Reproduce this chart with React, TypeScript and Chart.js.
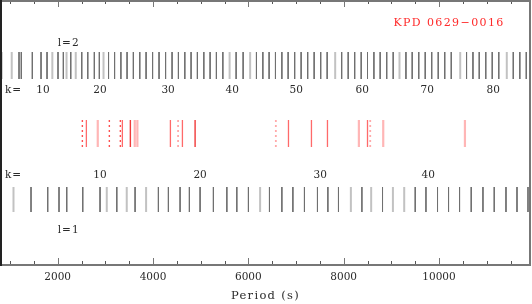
import { useEffect, useRef } from "react";
import { Chart, registerables } from "chart.js";

Chart.register(...registerables);

// ---- axis ----
const X_MIN = 790;
const X_MAX = 11930;
const X_TICKS = [1000, 1500, 2000, 2500, 3000, 3500, 4000, 4500, 5000, 5500, 6000, 6500, 7000, 7500, 8000, 8500, 9000, 9500, 10000, 10500, 11000, 11500];
const MAJOR_TICKS = [2000, 4000, 6000, 8000, 10000];

// ---- model periods, l=2 ----
const L2_PERIODS = [1189, 1237, 1468, 1651, 1777, 2007, 2119, 2274, 2505, 2631, 2769, 2874, 3067, 3194, 3326, 3456, 3588, 3722, 3855, 3991, 4127, 4264, 4400, 4533, 4667, 4799, 4931, 5066, 5198, 5330, 5465, 5744, 5891, 6170, 6304, 6436, 6569, 6703, 6835, 6972, 7108, 7245, 7381, 7518, 7654, 7958, 8095, 8231, 8368, 8500, 8634, 8766, 8903, 9039, 9306, 9438, 9575, 9711, 9847, 9984, 10120, 10257, 10578, 10712, 10844, 10981, 11117, 11254, 11558, 11695, 11831];
const L2_TRAPPED = [826, 1036, 1888, 2186, 2379, 2962, 5607, 6038, 7822, 9171, 10445, 11422];
const L2_K = [10, 20, 30, 40, 50, 60, 70, 80];
const L2_K_PERIODS = [1693, 2889, 4316, 5660, 7003, 8389, 9753, 11138];

// ---- model periods, l=1 ----
const L1_PERIODS = [1441, 1791, 2028, 2190, 2526, 2889, 3240, 3624, 4113, 4323, 4568, 4763, 4988, 5267, 5549, 5758, 6002, 6443, 6703, 6934, 7177, 7450, 7668, 7891, 8382, 8815, 9501, 9726, 9969, 10200, 10431, 10676, 10922, 11159, 11405, 11636, 11867];
const L1_TRAPPED = [1073, 3030, 3449, 3855, 6247, 8151, 8577, 9033, 9270];
const L1_K = [10, 20, 30, 40];
const L1_K_PERIODS = [2889, 4988, 7507, 9774];

// ---- observed periods ----
const OBS_STRONG = [3525, 4883];
const OBS_SOLID = [2602, 3357, 4365, 4617, 6842, 7324, 7660, 8500];
const OBS_WEAK = [2841, 3617, 3672, 8319, 8830, 10544];
const OBS_DASHED = [2518, 3084, 3315];
const OBS_DASHED_WEAK = [4526, 6577, 8557];

// ---- layout (y in pixel rows of the plot box) ----
const ROW_L2: [number, number] = [52, 79];
const ROW_OBS: [number, number] = [120, 147];
const ROW_L1: [number, number] = [187, 212];
const Y_L2_TEXT = 43;
const Y_L2_K = 90;
const Y_L1_K = 175;
const Y_L1_TEXT = 230;
const Y_STAR = 23;
const P_LTEXT = 2230;
const P_KEQ = 895;
const P_STAR = 9043;

const FONT = "DejaVu Serif";

function marks(periods: number[], row: [number, number]) {
  return periods.flatMap((p) => [
    { x: p, y: row[0] },
    { x: p, y: row[1] },
    { x: p, y: null as any },
  ]);
}

function ds(periods: number[], row: [number, number], color: string, width: number, dash: number[] = []) {
  return {
    data: marks(periods, row),
    borderColor: color,
    borderWidth: width,
    borderDash: dash,
    borderCapStyle: "butt" as const,
    pointRadius: 0,
    showLine: true,
    spanGaps: false,
    tension: 0,
  };
}

const overlay = {
  id: "overlay",
  afterDraw(chart: any) {
    const { ctx, chartArea: ca, scales } = chart;
    const x = scales.x;
    const y = scales.y;
    ctx.save();
    // tick marks (inside, bottom and top)
    for (const t of x.ticks) {
      const px = Math.round(x.getPixelForValue(t.value)) + 0.5;
      const major = MAJOR_TICKS.includes(t.value);
      const len = major ? 7 : 4;
      ctx.strokeStyle = major ? "#777" : "#555";
      ctx.lineWidth = 1;
      ctx.beginPath();
      ctx.moveTo(px, ca.bottom);
      ctx.lineTo(px, ca.bottom - len);
      ctx.moveTo(px, ca.top);
      ctx.lineTo(px, ca.top + len);
      ctx.stroke();
    }
    // frame
    ctx.strokeStyle = "#777";
    ctx.lineWidth = 2;
    ctx.strokeRect(ca.left + 1, ca.top + 1, ca.right - ca.left - 2, ca.bottom - ca.top - 1);
    ctx.strokeStyle = "#222";
    ctx.beginPath();
    ctx.moveTo(ca.left + 1, ca.top);
    ctx.lineTo(ca.left + 1, ca.bottom + 1);
    ctx.stroke();

    // texts
    ctx.fillStyle = "#2a2a2a";
    ctx.textBaseline = "middle";
    ctx.font = `10.5px "${FONT}"`;
    ctx.textAlign = "center";
    (ctx as any).letterSpacing = "0px";
    L2_K.forEach((k, i) => ctx.fillText(String(k), x.getPixelForValue(L2_K_PERIODS[i]), y.getPixelForValue(Y_L2_K)));
    L1_K.forEach((k, i) => ctx.fillText(String(k), x.getPixelForValue(L1_K_PERIODS[i]), y.getPixelForValue(Y_L1_K)));
    (ctx as any).letterSpacing = "1px";
    ctx.fillText("l=2", x.getPixelForValue(P_LTEXT), y.getPixelForValue(Y_L2_TEXT));
    ctx.fillText("l=1", x.getPixelForValue(P_LTEXT), y.getPixelForValue(Y_L1_TEXT));
    ctx.textAlign = "left";
    ctx.fillText("k=", x.getPixelForValue(P_KEQ), y.getPixelForValue(Y_L2_K));
    ctx.fillText("k=", x.getPixelForValue(P_KEQ), y.getPixelForValue(Y_L1_K));
    // star name
    ctx.fillStyle = "#ff2a2a";
    ctx.font = `11px "${FONT}"`;
    (ctx as any).letterSpacing = "1.4px";
    ctx.fillText("KPD 0629\u22120016", x.getPixelForValue(P_STAR), y.getPixelForValue(Y_STAR));
    // axis title
    ctx.fillStyle = "#2a2a2a";
    ctx.font = `11.5px "${FONT}"`;
    (ctx as any).letterSpacing = "1.3px";
    ctx.textAlign = "center";
    ctx.fillText("Period (s)", (ca.left + ca.right) / 2, 296);
    ctx.restore();
  },
};

export default function App() {
  const ref = useRef<HTMLCanvasElement>(null);
  useEffect(() => {
    document.body.style.margin = "0";
    const chart = new Chart(ref.current!, {
      type: "scatter",
      data: {
        datasets: [
          ds(L2_TRAPPED, ROW_L2, "#c2c2c2", 2),
          ds(L2_PERIODS, ROW_L2, "#707070", 1),
          ds(L1_TRAPPED, ROW_L1, "#c2c2c2", 2),
          ds(L1_PERIODS, ROW_L1, "#707070", 1),
          ds(OBS_WEAK, ROW_OBS, "#ffb6b6", 2.2),
          ds(OBS_DASHED_WEAK, ROW_OBS, "#ffaaaa", 1.8, [2, 3]),
          ds(OBS_SOLID, ROW_OBS, "#ff6a6a", 1.3),
          ds(OBS_STRONG, ROW_OBS, "#f03a3a", 1.4),
          ds(OBS_DASHED, ROW_OBS, "#ff5050", 1.4, [2, 3]),
        ] as any,
      },
      options: {
        responsive: false,
        animation: false,
        events: [],
        layout: { padding: { left: 0, right: 1, top: 0, bottom: 0 } },
        plugins: { legend: { display: false }, tooltip: { enabled: false } },
        scales: {
          x: {
            type: "linear",
            min: X_MIN,
            max: X_MAX,
            grid: { display: false, drawTicks: false },
            border: { display: false },
            ticks: {
              autoSkip: false,
              maxRotation: 0,
              padding: 6,
              color: "#2a2a2a",
              font: { family: FONT, size: 10.5 },
              callback: (v: any) => (MAJOR_TICKS.includes(Number(v)) ? String(v) : ""),
            },
            afterBuildTicks: (s: any) => {
              s.ticks = X_TICKS.map((v) => ({ value: v }));
            },
            afterFit: (s: any) => {
              s.height = 39;
            },
          },
          y: { type: "linear", min: 0, max: 265, reverse: true, display: false },
        },
      } as any,
      plugins: [overlay],
    });
    return () => chart.destroy();
  }, []);
  return (
    <div style={{ width: 532, height: 304, position: "relative" }}>
      <canvas ref={ref} width={532} height={304} style={{ display: "block", width: 532, height: 304 }} />
    </div>
  );
}
